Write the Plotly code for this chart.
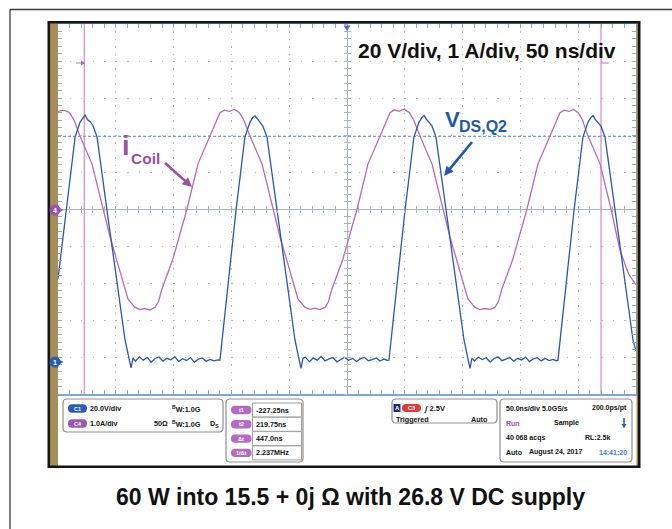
import math
import plotly.graph_objects as go

W, H = 672, 529

# ---------------- data ----------------
# horizontal: 50 ns/div, 10 div, screen centre = 0 ns
t_range = [-250, 250]
# channel 1: V_DS,Q2, 20 V/div, ground marker 0.865 div above the bottom edge
vds_range = [-17.3, 182.7]
# channel 4: coil current, 1 A/div, zero at screen centre
icoil_range = [-5, 5]

vds_samples = [
    (-250.0, 45.0), (-243.0, 82.0), (-235.2, 121.6), (-230.9, 129.7), (-228.5, 132.0),
    (-226.6, 133.5), (-224.5, 131.0), (-222.0, 129.8), (-219.8, 128.0), (-216.2, 121.6),
    (-207.6, 82.0), (-200.6, 49.7), (-192.0, 11.9), (-186.8, -3.2), (-185.1, 2.2),
    (-183.0, 0.4), (-179.6, 2.8), (-176.2, 1.0), (-172.8, 2.5), (-169.4, -0.1), (-166.0, 1.9),
    (-162.6, 2.7), (-159.2, 0.5), (-155.8, 2.0), (-152.4, 1.2), (-149.0, 2.9), (-145.6, 0.3),
    (-142.2, 1.8), (-138.8, 0.8), (-135.4, 2.4), (-132.0, -0.2), (-128.6, 1.6), (-125.2, 2.2),
    (-121.8, 0.4), (-118.4, 1.4), (-115.0, 0.6), (-111.9, 1.1),
    (-109.9, 1.0), (-103.0, 41.6), (-96.0, 82.0), (-88.3, 121.6), (-83.9, 129.7), (-81.5, 132.2),
    (-79.6, 133.0), (-77.5, 131.5), (-75.0, 129.5), (-72.8, 127.5), (-69.2, 121.6),
    (-60.6, 82.0), (-53.6, 49.7), (-45.0, 11.9), (-39.8, -3.5), (-38.1, 2.0),
    (-36.0, 2.6), (-32.6, 0.2), (-29.2, 2.1), (-25.8, 1.0), (-22.4, 3.0), (-19.0, 0.6),
    (-15.6, 1.7), (-12.2, 2.4), (-8.8, 0.1), (-5.4, 1.5), (-2.0, 2.6), (1.4, 0.9),
    (4.8, 2.0), (8.2, 0.3), (11.6, 1.8), (15.0, 2.5), (18.4, 0.7), (21.8, 1.3),
    (25.2, 2.2), (28.6, 0.5), (32.0, 1.6), (34.6, 0.9),
    (36.3, 1.0), (43.2, 41.6), (50.2, 82.0), (57.9, 121.6), (62.3, 129.7), (64.6, 132.0),
    (66.6, 133.3), (68.7, 131.2), (71.2, 129.6), (73.5, 127.6), (77.0, 121.6),
    (85.6, 82.0), (92.6, 49.7), (101.2, 11.9), (106.4, -3.4), (108.1, 2.1),
    (110.2, 0.5), (113.6, 2.7), (117.0, 1.3), (120.4, 2.3), (123.8, 0.0), (127.2, 1.9),
    (130.6, 2.8), (134.0, 0.7), (137.4, 1.6), (140.8, 2.4), (144.2, 0.4), (147.6, 2.0),
    (151.0, 1.1), (154.4, 2.6), (157.8, 0.2), (161.2, 1.7), (164.6, 2.3), (168.0, 0.6),
    (171.4, 1.9), (174.8, 0.8), (178.2, 1.4), (181.0, 0.7),
    (182.5, 1.0), (189.4, 41.6), (196.4, 82.0), (204.1, 121.6), (208.5, 129.7), (210.8, 132.0),
    (212.8, 133.2), (214.9, 131.0), (217.4, 129.4), (219.7, 127.5), (223.2, 121.6),
    (231.8, 82.0), (238.8, 49.7), (247.4, 11.9), (250.0, 6.0),
]

icoil_samples = [
    (-250.0, 2.64), (-245.5, 2.67), (-241.5, 2.63), (-239.6, 2.58), (-236.0, 2.40),
    (-231.0, 1.97), (-220.6, 1.22), (-211.1, 0.0), (-205.0, -0.75), (-200.7, -1.22),
    (-194.7, -1.89), (-189.5, -2.43), (-183.4, -2.66), (-179.0, -2.72), (-174.8, -2.69),
    (-170.5, -2.73), (-166.1, -2.66), (-163.0, -2.50), (-160.1, -2.16), (-150.6, -1.35),
    (-138.4, 0.0), (-128.9, 1.22), (-118.5, 1.97), (-112.5, 2.42), (-109.9, 2.60),
    (-106.0, 2.67), (-102.0, 2.64), (-97.5, 2.69), (-93.0, 2.60),
    (-89.5, 2.42), (-83.9, 1.97), (-73.5, 1.22), (-64.0, 0.0), (-58.0, -0.75), (-53.6, -1.22),
    (-47.6, -1.89), (-42.4, -2.43), (-36.3, -2.66), (-32.0, -2.71), (-27.7, -2.68),
    (-23.3, -2.72), (-19.0, -2.66), (-16.0, -2.50), (-13.0, -2.16), (-3.5, -1.35),
    (8.7, 0.0), (18.2, 1.22), (28.6, 1.97), (34.6, 2.42), (37.2, 2.60),
    (41.0, 2.68), (45.0, 2.64), (49.5, 2.70), (54.0, 2.60),
    (57.5, 2.42), (63.1, 1.97), (73.5, 1.22), (83.0, 0.0), (89.0, -0.75), (93.4, -1.22),
    (99.4, -1.89), (104.6, -2.43), (110.7, -2.66), (115.0, -2.72), (119.3, -2.69),
    (123.7, -2.71), (128.0, -2.66), (131.0, -2.50), (134.0, -2.16), (143.5, -1.35),
    (155.7, 0.0), (165.2, 1.22), (175.6, 1.97), (181.6, 2.42), (184.2, 2.60),
    (188.0, 2.67), (192.0, 2.64), (196.0, 2.69), (200.0, 2.60),
    (203.5, 2.42), (208.5, 1.97), (218.9, 1.22), (228.4, 0.0), (236.0, -1.10),
    (243.5, -1.75), (250.0, -2.05),
]

vds_t = [s[0] for s in vds_samples]
vds_v = [s[1] for s in vds_samples]
icoil_t = [s[0] for s in icoil_samples]
icoil_a = [s[1] for s in icoil_samples]

cursor_t = [-227.25, 219.75]          # t1, t2 (ns)
vds_ref_level = 122.0                 # blue dotted reference level (V)

title_text = "20 V/div, 1 A/div, 50 ns/div"
caption_text = "60 W into 15.5 + 0j Ω with 26.8 V DC supply"

ch_names = ["C1", "C4"]
ch_scales = ["20.0V/div", "1.0A/div"]
cursor_names = ["t1", "t2", "Δt", "1/Δt"]
cursor_values = ["-227.25ns", "219.75ns", "447.0ns", "2.237MHz"]
acq_rows = [("50.0ns/div", "5.0GS/s", "200.0ps/pt"),
            ("Run", "Sample", ""),
            ("40 068 acqs", "", "RL:2.5k"),
            ("Auto", "August 24, 2017", "14:41:20")]

# ---------------- colours / fonts ----------------
C_BLUE = "#2d55ad"
C_PINK = "#b86ab8"
C_CURSOR = "#d690d2"
C_GRIDBORDER = "#7ea5db"
C_TICK = "#8ea8d4"
C_DOT = "#b8b8b8"
C_CROSS = "#a7b3cf"
C_TAN = "#a38f57"
C_LBL_PINK = "#9b4f9f"
C_LBL_BLUE = "#1f5aa8"
BIG_FONT = "Liberation Sans, Arial, sans-serif"
SMALL_FONT = "Liberation Sans, Arial, sans-serif"

# ---------------- layout geometry (pixels) ----------------
PX0, PX1, PY0, PY1 = 58, 636, 24, 394
dom_x = [PX0 / W, PX1 / W]
dom_y = [1 - PY1 / H, 1 - PY0 / H]
cx_paper = (dom_x[0] + dom_x[1]) / 2
cy_paper = (dom_y[0] + dom_y[1]) / 2


def fx(x):
    return x / W


def fy(y):
    return 1 - y / H


def pt(x, y):
    return f"{fx(x):.5f},{fy(y):.5f}"


def rect(x0, y0, x1, y1, **kw):
    d = dict(type="rect", xref="paper", yref="paper",
             x0=fx(x0), x1=fx(x1), y0=fy(y1), y1=fy(y0))
    d.update(kw)
    return d


def rrect(x0, y0, x1, y1, r, **kw):
    p = (f"M{pt(x0 + r, y0)} L{pt(x1 - r, y0)} Q{pt(x1, y0)} {pt(x1, y0 + r)} "
         f"L{pt(x1, y1 - r)} Q{pt(x1, y1)} {pt(x1 - r, y1)} L{pt(x0 + r, y1)} "
         f"Q{pt(x0, y1)} {pt(x0, y1 - r)} L{pt(x0, y0 + r)} Q{pt(x0, y0)} {pt(x0 + r, y0)} Z")
    d = dict(type="path", xref="paper", yref="paper", path=p)
    d.update(kw)
    return d


def poly(points, **kw):
    p = "M" + " L".join(pt(x, y) for x, y in points) + " Z"
    d = dict(type="path", xref="paper", yref="paper", path=p)
    d.update(kw)
    return d


def line(x0, y0, x1, y1, color, width, **kw):
    d = dict(type="line", xref="paper", yref="paper", x0=fx(x0), y0=fy(y0),
             x1=fx(x1), y1=fy(y1), line=dict(color=color, width=width))
    d.update(kw)
    return d


def arrow(tail, tip, color, width=2.6, head_len=9.5, head_half=4.6):
    dx, dy = tip[0] - tail[0], tip[1] - tail[1]
    n = math.hypot(dx, dy)
    ux, uy = dx / n, dy / n
    bx, by = tip[0] - head_len * ux, tip[1] - head_len * uy
    px_, py_ = -uy, ux
    return [line(tail[0], tail[1], bx + ux, by + uy, color, width),
            poly([(bx + head_half * px_, by + head_half * py_), tip,
                  (bx - head_half * px_, by - head_half * py_)], fillcolor=color, line=dict(width=0))]


annotations = []


def txt(x, y, s, size=7, color="#111111", anchor="left", family=SMALL_FONT, bold=True, yanchor="middle"):
    annotations.append(dict(
        xref="paper", yref="paper", x=fx(x), y=fy(y), text=(f"<b>{s}</b>" if bold else s),
        showarrow=False, xanchor=anchor, yanchor=yanchor,
        font=dict(family=family, size=size, color=color), borderpad=0))


# ---------------- figure ----------------
fig = go.Figure()
fig.add_trace(go.Scatter(x=icoil_t, y=icoil_a, mode="lines", xaxis="x", yaxis="y",
                         line=dict(color=C_PINK, width=1.3), hoverinfo="skip"))
fig.add_trace(go.Scatter(x=vds_t, y=vds_v, mode="lines", xaxis="x", yaxis="y2",
                         line=dict(color=C_BLUE, width=1.3), hoverinfo="skip"))
# empty traces so the crosshair tick axes are laid out
for xa in ["x2", "x3"]:
    fig.add_trace(go.Scatter(x=[], y=[], xaxis=xa, yaxis="y", hoverinfo="skip"))
for ya in ["y3", "y4"]:
    fig.add_trace(go.Scatter(x=[], y=[], xaxis="x", yaxis=ya, hoverinfo="skip"))

xy_common = dict(showticklabels=False, fixedrange=True)

fig.update_layout(
    width=W, height=H, margin=dict(l=0, r=0, t=0, b=0),
    paper_bgcolor="white", plot_bgcolor="white", showlegend=False,
    xaxis=dict(domain=dom_x, range=t_range, tick0=0, dtick=50,
               showgrid=True, gridcolor=C_DOT, gridwidth=1.3, griddash="1.3px,6.1px",
               showline=True, linecolor=C_GRIDBORDER, linewidth=2, mirror="ticks",
               ticks="inside", ticklen=4, tickcolor=C_TICK, tickwidth=1,
               minor=dict(tick0=0, dtick=10, ticks="inside", ticklen=4, tickcolor=C_TICK, showgrid=False),
               zeroline=True, zerolinecolor=C_CROSS, zerolinewidth=1, **xy_common),
    yaxis=dict(domain=dom_y, range=icoil_range, tick0=0, dtick=1,
               showgrid=True, gridcolor=C_DOT, gridwidth=1.3, griddash="1.3px,10.26px",
               showline=True, linecolor=C_GRIDBORDER, linewidth=2, mirror="ticks",
               ticks="inside", ticklen=4, tickcolor=C_TICK, tickwidth=1,
               minor=dict(tick0=0, dtick=0.2, ticks="inside", ticklen=4, tickcolor=C_TICK, showgrid=False),
               zeroline=True, zerolinecolor=C_CROSS, zerolinewidth=1, **xy_common),
    yaxis2=dict(overlaying="y", range=vds_range, visible=False, fixedrange=True),
    xaxis2=dict(overlaying="x", anchor="free", position=cy_paper, range=t_range, tick0=0, dtick=10,
                ticks="outside", ticklen=3, tickcolor=C_CROSS, showline=False, showgrid=False,
                zeroline=False, **xy_common),
    xaxis3=dict(overlaying="x", anchor="free", position=cy_paper, range=t_range, tick0=0, dtick=10,
                ticks="inside", ticklen=3, tickcolor=C_CROSS, showline=False, showgrid=False,
                zeroline=False, **xy_common),
    yaxis3=dict(overlaying="y", anchor="free", position=cx_paper, range=icoil_range, tick0=0, dtick=0.2,
                ticks="outside", ticklen=3, tickcolor=C_CROSS, showline=False, showgrid=False,
                zeroline=False, **xy_common),
    yaxis4=dict(overlaying="y", anchor="free", position=cx_paper, range=icoil_range, tick0=0, dtick=0.2,
                ticks="inside", ticklen=3, tickcolor=C_CROSS, showline=False, showgrid=False,
                zeroline=False, **xy_common),
)

shapes = []
# page frame lines
shapes.append(line(10, 9.5, 672, 9.5, "#3a3a3a", 1.3))
shapes.append(line(10, 9.5, 10, 529, "#3a3a3a", 1.3))
# scope bezel
shapes.append(rect(49.5, 23, 58, 466, fillcolor=C_TAN, line=dict(width=0)))
shapes.append(rect(636.5, 23, 638.5, 466, fillcolor=C_TAN, line=dict(width=0)))
shapes.append(rect(48.8, 22.2, 639.2, 466.8, line=dict(color="#151515", width=2.6)))

# cursors and reference level
for tc in cursor_t:
    shapes.append(dict(type="line", xref="x", yref="paper", x0=tc, x1=tc, y0=dom_y[0], y1=dom_y[1],
                       line=dict(color=C_CURSOR, width=1.3), layer="between"))
shapes.append(dict(type="line", xref="paper", yref="y2", x0=dom_x[0], x1=dom_x[1],
                   y0=vds_ref_level, y1=vds_ref_level,
                   line=dict(color="#7aa2dc", width=1.2, dash="3px,2px"), layer="between"))

# cursor position pointers near the top
shapes.append(line(76, 63, 82, 63, C_CURSOR, 1.3))
shapes.append(poly([(81, 60.5), (85, 63), (81, 65.5)], fillcolor="#b063b0", line=dict(width=0)))
shapes.append(line(601, 63, 609, 63, C_CURSOR, 1.3))

# trigger position marker
shapes.append(poly([(343.5, 25.5), (350.5, 25.5), (347, 31)], fillcolor="#3d6fc4", line=dict(width=0)))

# channel markers on the left edge
for (yy, col, lab) in [(210, "#9b52b0", "4"), (362, "#2a5bb5", "1")]:
    shapes.append(poly([(58, yy - 3), (63.5, yy), (58, yy + 3)], fillcolor=col, line=dict(width=0)))
    shapes.append(dict(type="circle", xref="paper", yref="paper", x0=fx(49.5), x1=fx(60.5),
                       y0=fy(yy + 5.5), y1=fy(yy - 5.5), fillcolor=col, line=dict(width=0)))
    txt(55, yy + 0.5, lab, size=7, color="white", anchor="center")

# ---------------- readout panel ----------------
BOX = dict(fillcolor="white", line=dict(color="#8f8f8f", width=1.2))
shapes.append(rrect(63, 399, 223, 432, 4, **BOX))
shapes.append(rrect(226, 399, 303, 462, 4, **BOX))
shapes.append(rrect(392, 399, 497, 423, 4, **BOX))
shapes.append(rrect(500, 399, 632, 462, 4, **BOX))

# channel rows
for i, (nm, sc, col) in enumerate(zip(ch_names, ch_scales, ["#2a5bb5", "#9b55b5"])):
    yy = 408.5 + 15 * i
    shapes.append(rrect(68, yy - 4.3, 87, yy + 4.3, 4.2, fillcolor=col, line=dict(width=0)))
    txt(77.5, yy, nm, size=5.5, color="white", anchor="center")
    txt(89, yy, sc, size=7.2)
    txt(171, yy, "<sup>B</sup>W:1.0G", size=7.2)
txt(153, 423.5, "50Ω", size=7.2)
txt(209, 423.5, "D<sub>S</sub>", size=7.2)

# cursor readouts
for i, (nm, val) in enumerate(zip(cursor_names, cursor_values)):
    yy = 410 + 14.3 * i
    shapes.append(rrect(231, yy - 4.2, 251.5, yy + 4.2, 4.1, fillcolor="#b46cc2", line=dict(width=0)))
    txt(241.3, yy, nm, size=5.5, color="white", anchor="center")
    shapes.append(rect(252.5, yy - 7, 301.5, yy + 7, fillcolor="white", line=dict(color="#a0a0a0", width=1)))
    txt(254.5, yy, val, size=7.2)

# trigger readout
shapes.append(rect(393.5, 404, 400.5, 412, fillcolor="#1d2d66", line=dict(width=0)))
txt(397, 408, "A", size=6, color="white", anchor="center")
shapes.append(rrect(402, 404, 421, 412, 4, fillcolor="#e03a3a", line=dict(width=0)))
txt(411.5, 408, "C3", size=5.5, color="white", anchor="center")
txt(423, 408, "<i>ʃ</i> 2.5V", size=7.5)
txt(395, 419.5, "Triggered", size=7.2)
txt(470, 419.5, "Auto", size=7.2)

# acquisition readout
row_y = [408, 423, 437.5, 452]
col_b_x = [541, 553, 0, 528]
col_c_x = [628, 0, 611, 628]
for i, ((a, b, c), yy) in enumerate(zip(acq_rows, row_y)):
    txt(505, yy, a, size=7, color=("#9b52b0" if i == 1 else "#111111"))
    if b:
        txt(col_b_x[i], yy, b, size=7)
    if c:
        txt(col_c_x[i], yy, c, size=7, color=("#3b7ad8" if i == 3 else "#111111"), anchor="right")
# blue down arrow in the acquisition box
shapes.append(line(624, 418, 624, 425, "#2f5fc0", 1.6))
shapes.append(poly([(621.5, 424), (626.5, 424), (624, 428.5)], fillcolor="#2f5fc0", line=dict(width=0)))

# ---------------- chart texts ----------------
txt(357, 50, title_text, size=21, color="#111111", family=BIG_FONT)
txt(350, 497, caption_text, size=23, color="#111111", anchor="center", family=BIG_FONT)

# i_Coil label and arrow
txt(121, 146, "i", size=27, color=C_LBL_PINK, family=BIG_FONT)
txt(130, 158.5, "Coil", size=15.5, color=C_LBL_PINK, family=BIG_FONT)
shapes += arrow((165, 163), (192, 187), C_LBL_PINK)
# V_DS,Q2 label and arrow
txt(444, 120, "V", size=22, color=C_LBL_BLUE, family=BIG_FONT)
txt(458, 126.5, "DS,Q2", size=16, color=C_LBL_BLUE, family=BIG_FONT)
shapes += arrow((472, 142), (444, 176), C_LBL_BLUE)

fig.update_layout(shapes=shapes, annotations=annotations)
fig.write_html(
    "out.html", config={"displayModeBar": False},
    post_script=("document.body.style.margin='0';document.body.style.overflow='hidden';"
                 "document.querySelectorAll('svg text').forEach(function(t){"
                 "if(!t.textContent.trim()){t.parentNode.removeChild(t);}});"))
